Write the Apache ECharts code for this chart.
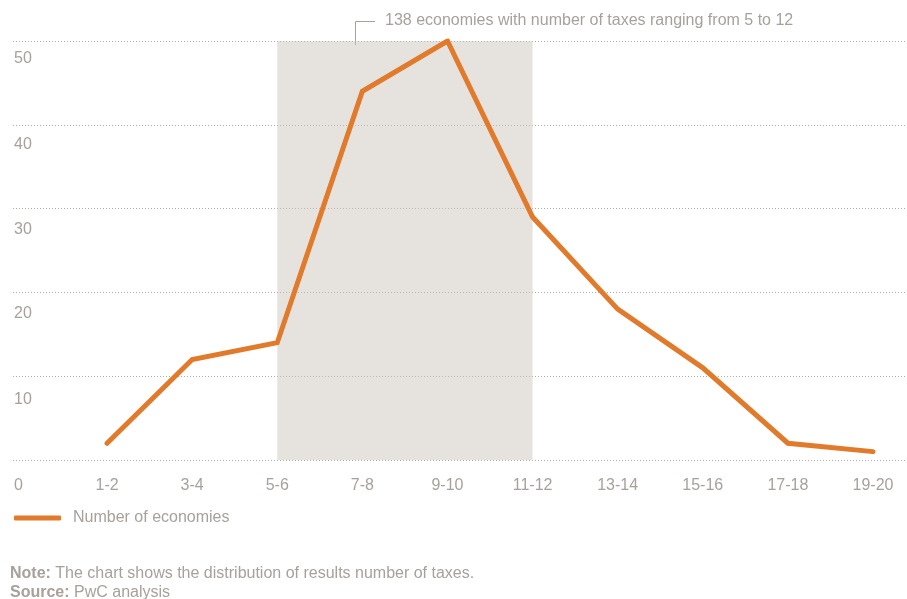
<!DOCTYPE html>
<html>
<head>
<meta charset="utf-8">
<script src="https://cdn.jsdelivr.net/npm/echarts@6/dist/echarts.min.js"></script>
<style>
    html, body { margin: 0; padding: 0; background: #fff; }
    #chart { width: 907px; height: 599px; }
</style>
</head>
<body>
<div id="chart"></div>
<script>
const categories = ["1-2", "3-4", "5-6", "7-8", "9-10", "11-12", "13-14", "15-16", "17-18", "19-20"];
const economies = [2, 12, 14, 44, 50, 29, 18, 11, 2, 1];
const yTicks = [0, 10, 20, 30, 40, 50];
const highlightFrom = "5-6";
const highlightTo = "11-12";
const annotation = "138 economies with number of taxes ranging from 5 to 12";
const seriesName = "Number of economies";
const noteText = "The chart shows the distribution of results number of taxes.";
const sourceText = "PwC analysis";

const GRAY = "#a7a19c";
const ORANGE = "#e27a2c";
const FONT = "'Liberation Sans', Arial, sans-serif";

// x positions: category index 1..10 on a value axis
const points = categories.map((c, i) => [i + 1, economies[i]]);

// labels sit a little below their gridline, drifting lower toward 0
const labelPad = { 0: 18, 10: 15, 20: 13.5, 30: 13, 40: 11.5, 50: 9.5 };
const yRich = {};
yTicks.forEach(v => {
    yRich["l" + v] = { padding: [labelPad[v], 0, 0, 0], fontSize: 16, color: GRAY, fontFamily: FONT };
});

const chart = echarts.init(document.getElementById("chart"));

chart.setOption({
    animation: false,
    grid: { left: 13, right: 2, top: 41, bottom: 139 },
    xAxis: {
        type: "value",
        min: -0.105,
        max: 10.376,
        axisLine: { show: false },
        axisTick: { show: false },
        splitLine: { show: false },
        axisLabel: {
            customValues: categories.map((c, i) => i + 1),
            formatter: v => categories[Math.round(v) - 1] || "",
            margin: 18,
            fontSize: 16,
            color: GRAY,
            fontFamily: FONT
        }
    },
    yAxis: {
        type: "value",
        min: 0,
        max: 50,
        interval: 10,
        axisLine: { show: false },
        axisTick: { show: false },
        splitLine: {
            lineStyle: { color: "#b3ada8", type: [1, 2], width: 1 }
        },
        axisLabel: {
            inside: true,
            align: "left",
            verticalAlign: "top",
            margin: 1,
            formatter: v => "{l" + v + "|" + v + "}",
            rich: yRich
        }
    },
    legend: {
        left: 14,
        top: 510,
        padding: 0,
        icon: "roundRect",
        itemWidth: 47,
        itemHeight: 5,
        textStyle: { fontSize: 16, color: GRAY, fontFamily: FONT, padding: [0, 0, 0, 7] },
        data: [seriesName]
    },
    series: [
        {
            name: seriesName,
            type: "line",
            data: points,
            showSymbol: false,
            symbol: "none",
            color: ORANGE,
            lineStyle: { width: 5, color: ORANGE, cap: "round", join: "miter" },
            markArea: {
                silent: true,
                itemStyle: { color: "rgba(205,197,190,0.5)" },
                data: [[
                    { xAxis: categories.indexOf(highlightFrom) + 1, yAxis: 0 },
                    { xAxis: categories.indexOf(highlightTo) + 1, yAxis: 50 }
                ]]
            }
        }
    ],
    graphic: [
        {
            type: "polyline",
            shape: { points: [[375, 21.5], [355.5, 21.5], [355.5, 45]] },
            style: { stroke: GRAY, lineWidth: 1, fill: null }
        },
        {
            type: "text",
            left: 385,
            top: 13,
            style: { text: annotation, fontSize: 16, fill: GRAY, fontFamily: FONT }
        },
        {
            type: "text",
            left: 10,
            top: 564,
            style: {
                text: "{b|Note:} " + noteText + "\n{b|Source:} " + sourceText,
                fontSize: 16,
                lineHeight: 19,
                fill: GRAY,
                fontFamily: FONT,
                rich: {
                    b: { fontWeight: "bold", fontSize: 16, fill: GRAY, fontFamily: FONT }
                }
            }
        }
    ]
});
</script>
</body>
</html>
